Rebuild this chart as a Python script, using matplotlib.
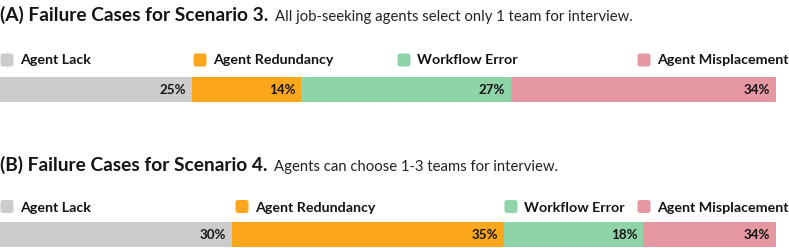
import matplotlib
matplotlib.use("Agg")
import matplotlib.pyplot as plt
from matplotlib.patches import FancyBboxPatch
from matplotlib.transforms import IdentityTransform
import numpy as np

# ---- data ----
categories = ["Agent Lack", "Agent Redundancy", "Workflow Error", "Agent Misplacement"]
colors = ["#cccccc", "#fca61c", "#8fd3a9", "#e597a2"]
s3_values = [24.8, 14.0, 27.0, 34.2]
s3_labels = ["25%", "14%", "27%", "34%"]
s4_values = [29.9, 35.1, 17.9, 17.1]
s4_labels = ["30%", "35%", "18%", "34%"]
titles = ["(A) Failure Cases for Scenario 3.", "(B) Failure Cases for Scenario 4."]
subtitles = ["All job-seeking agents select only 1 team for interview.",
             "Agents can choose 1-3 teams for interview."]

plt.rcParams["font.family"] = ["Lato", "DejaVu Sans"]
TXT = "#141414"

W, H = 789, 248
fig = plt.figure(figsize=(W / 100, H / 100), dpi=100)
fig.patch.set_facecolor("white")


def fx(px):
    return px / W


def fy(py):
    return 1 - py / H


rows = [
    dict(values=s3_values, labels=s3_labels, title=titles[0], sub=subtitles[0],
         title_base=20.5, leg_base=64.5, sq_top=53, bar_top=76.5, bar_bot=101.7,
         leg_x=[0, 193, 397, 637]),
    dict(values=s4_values, labels=s4_labels, title=titles[1], sub=subtitles[1],
         title_base=170.5, leg_base=211.5, sq_top=199.5, bar_top=222, bar_bot=247.3,
         leg_x=[0, 235, 504, 637]),
]

renderer = fig.canvas.get_renderer()

for r in rows:
    # title + subtitle
    t = fig.text(fx(0), fy(r["title_base"]), r["title"], fontsize=13.8,
                 fontweight="bold", color=TXT, va="baseline", ha="left")
    x1 = t.get_window_extent(renderer).x1
    fig.text(fx(x1 + 7), fy(r["title_base"]), r["sub"], fontsize=10.7,
             color="#222222", va="baseline", ha="left")

    # legend
    for cat, col, lx in zip(categories, colors, r["leg_x"]):
        sq = FancyBboxPatch((lx + 0.5, H - r["sq_top"] - 13.5), 13, 13,
                            boxstyle="round,pad=0,rounding_size=2.5",
                            transform=IdentityTransform(), facecolor=col,
                            edgecolor="none")
        fig.add_artist(sq)
        fig.text(fx(lx + 20), fy(r["leg_base"]), cat, fontsize=10.3,
                 fontweight="bold", color=TXT, va="baseline", ha="left")

    # bar
    ax = fig.add_axes([0, fy(r["bar_bot"]), 1, (r["bar_bot"] - r["bar_top"]) / H])
    ax.set_xlim(0, 100 * W / 776)
    ax.set_ylim(-0.5, 0.5)
    ax.axis("off")
    vals = np.array(r["values"])
    lefts = np.concatenate([[0], np.cumsum(vals)[:-1]])
    ax.barh([0] * len(vals), vals, left=lefts, height=1, color=colors, linewidth=0)
    for v, l, lbl in zip(vals, lefts, r["labels"]):
        ax.annotate(lbl, xy=(l + v, 0), xytext=(-6, -0.5), textcoords="offset pixels",
                    ha="right", va="center", fontsize=9.6, fontweight="bold", color=TXT)

fig.savefig("out.png", dpi=100)
